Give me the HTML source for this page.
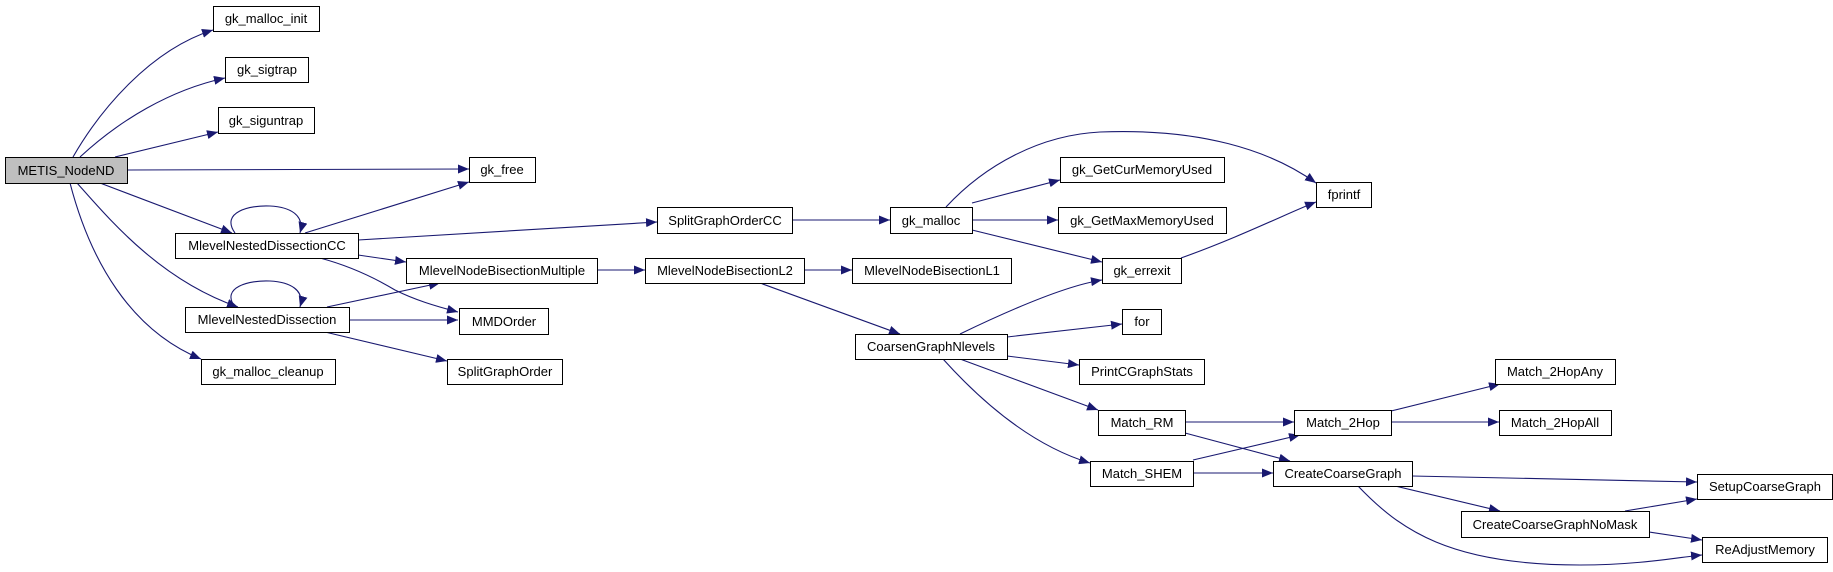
<!DOCTYPE html>
<html><head><meta charset="utf-8"><style>
html,body{margin:0;padding:0;background:#fff;}
svg{display:block;}
text{font-family:"Liberation Sans",sans-serif;font-size:13px;fill:#000;}
</style></head><body>
<svg width="1833" height="572" viewBox="0 0 1833 572" xmlns="http://www.w3.org/2000/svg">
<defs>
<marker id="a" viewBox="0 0 11 9" refX="11" refY="4.5" markerWidth="11" markerHeight="9" markerUnits="userSpaceOnUse" orient="auto">
<path d="M0,0 L11,4.5 L0,9 Z" fill="#191970"/></marker>
</defs>
<g fill="none" stroke="#191970" stroke-width="1.1" marker-end="url(#a)">
<path d="M73,157 C100,110 150,50 213,30"/>
<path d="M80,157 C120,120 170,90 225,78"/>
<path d="M115,157 L218,132"/>
<path d="M127,170 L469,169"/>
<path d="M100,183 L232,233"/>
<path d="M77,183 C110,220 160,280 238,307"/>
<path d="M70,183 C90,260 130,330 201,359"/>
<path d="M235,233 C220,212 250,205 270,206 C290,207 305,215 300,233"/>
<path d="M305,233 L469,182"/>
<path d="M358,240 L657,222"/>
<path d="M358,255 L406,262"/>
<path d="M320,258 C350,266 375,278 395,290 C415,300 435,306 458,312"/>
<path d="M235,307 C220,287 250,280 270,281 C290,282 305,290 300,307"/>
<path d="M327,307 L440,283"/>
<path d="M348,320 L458,320"/>
<path d="M325,332 L447,361"/>
<path d="M792,220 L890,220"/>
<path d="M597,270 L645,270"/>
<path d="M804,270 L852,270"/>
<path d="M760,283 L900,334"/>
<path d="M946,207 C985,165 1040,135 1100,132 C1200,128 1270,150 1316,183"/>
<path d="M972,203 L1060,180"/>
<path d="M972,220 L1058,220"/>
<path d="M972,230 L1102,262"/>
<path d="M1181,258 C1240,237 1290,212 1316,202"/>
<path d="M960,334 C1020,305 1070,285 1102,280"/>
<path d="M1007,337 L1122,324"/>
<path d="M1007,356 L1079,365"/>
<path d="M960,359 L1098,410"/>
<path d="M943,359 C980,400 1030,445 1090,463"/>
<path d="M1185,422 L1294,422"/>
<path d="M1185,433 L1290,461"/>
<path d="M1193,460 L1300,435"/>
<path d="M1193,473 L1273,473"/>
<path d="M1391,411 L1500,384"/>
<path d="M1391,422 L1499,422"/>
<path d="M1412,476 L1697,482"/>
<path d="M1395,486 L1500,511"/>
<path d="M1358,486 C1400,530 1450,565 1580,565 C1640,565 1680,557 1702,555"/>
<path d="M1625,511 L1697,499"/>
<path d="M1649,532 L1702,540"/>
</g>
<g stroke="#000" stroke-width="1" fill="#fff">
<rect x="5.5" y="157.5" width="122" height="26" fill="#bfbfbf"/>
<rect x="213.5" y="6.5" width="106" height="25"/>
<rect x="225.5" y="57.5" width="83" height="25"/>
<rect x="218.5" y="107.5" width="96" height="26"/>
<rect x="469.5" y="157.5" width="66" height="25"/>
<rect x="175.5" y="233.5" width="183" height="25"/>
<rect x="406.5" y="258.5" width="191" height="25"/>
<rect x="185.5" y="307.5" width="164" height="25"/>
<rect x="459.5" y="308.5" width="89" height="26"/>
<rect x="447.5" y="359.5" width="115" height="25"/>
<rect x="201.5" y="359.5" width="134" height="25"/>
<rect x="657.5" y="207.5" width="135" height="26"/>
<rect x="890.5" y="207.5" width="82" height="26"/>
<rect x="1060.5" y="157.5" width="164" height="25"/>
<rect x="1058.5" y="207.5" width="168" height="26"/>
<rect x="1102.5" y="258.5" width="79" height="25"/>
<rect x="1316.5" y="182.5" width="55" height="25"/>
<rect x="645.5" y="258.5" width="159" height="25"/>
<rect x="852.5" y="258.5" width="159" height="25"/>
<rect x="855.5" y="334.5" width="152" height="25"/>
<rect x="1122.5" y="309.5" width="39" height="25"/>
<rect x="1079.5" y="359.5" width="125" height="25"/>
<rect x="1098.5" y="410.5" width="87" height="25"/>
<rect x="1090.5" y="461.5" width="103" height="25"/>
<rect x="1294.5" y="410.5" width="97" height="25"/>
<rect x="1273.5" y="461.5" width="139" height="25"/>
<rect x="1495.5" y="359.5" width="120" height="25"/>
<rect x="1499.5" y="410.5" width="112" height="25"/>
<rect x="1697.5" y="474.5" width="135" height="25"/>
<rect x="1461.5" y="511.5" width="188" height="26"/>
<rect x="1702.5" y="537.5" width="125" height="25"/>
</g>
<g text-anchor="middle">
<text x="66" y="175">METIS_NodeND</text>
<text x="266" y="23">gk_malloc_init</text>
<text x="267" y="74">gk_sigtrap</text>
<text x="266" y="125">gk_siguntrap</text>
<text x="502" y="174">gk_free</text>
<text x="267" y="250">MlevelNestedDissectionCC</text>
<text x="502" y="275">MlevelNodeBisectionMultiple</text>
<text x="267" y="324">MlevelNestedDissection</text>
<text x="504" y="326">MMDOrder</text>
<text x="505" y="376">SplitGraphOrder</text>
<text x="268" y="376">gk_malloc_cleanup</text>
<text x="725" y="225">SplitGraphOrderCC</text>
<text x="931" y="225">gk_malloc</text>
<text x="1142" y="174">gk_GetCurMemoryUsed</text>
<text x="1142" y="225">gk_GetMaxMemoryUsed</text>
<text x="1142" y="275">gk_errexit</text>
<text x="1344" y="199">fprintf</text>
<text x="725" y="275">MlevelNodeBisectionL2</text>
<text x="932" y="275">MlevelNodeBisectionL1</text>
<text x="931" y="351">CoarsenGraphNlevels</text>
<text x="1142" y="326">for</text>
<text x="1142" y="376">PrintCGraphStats</text>
<text x="1142" y="427">Match_RM</text>
<text x="1142" y="478">Match_SHEM</text>
<text x="1343" y="427">Match_2Hop</text>
<text x="1343" y="478">CreateCoarseGraph</text>
<text x="1555" y="376">Match_2HopAny</text>
<text x="1555" y="427">Match_2HopAll</text>
<text x="1765" y="491">SetupCoarseGraph</text>
<text x="1555" y="529">CreateCoarseGraphNoMask</text>
<text x="1765" y="554">ReAdjustMemory</text>
</g>
</svg>
</body></html>
